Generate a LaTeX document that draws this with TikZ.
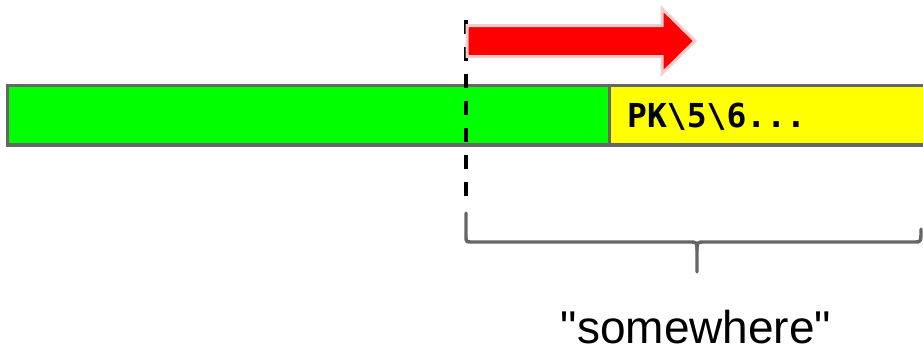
\documentclass[tikz,border=0pt]{standalone}
\usepackage{fontspec}
\setmainfont{Liberation Sans}[Ligatures=TeXOff]
\newfontfamily\codefont{DejaVu Sans Mono}
\definecolor{barfill}{HTML}{00FF00}
\definecolor{tailfill}{HTML}{FFFF00}
\definecolor{edgegray}{HTML}{666666}
\definecolor{arrowred}{HTML}{FF0000}
\definecolor{arrowrim}{HTML}{F4CCCC}
\tikzset{
  segment/.style={draw=edgegray, line width=3.2pt, inner sep=0pt, outer sep=0pt, anchor=north west},
  marker/.style={draw=black, line width=3.6pt, dash pattern=on 14pt off 13pt},
  bracket/.style={draw=edgegray, line width=3.4pt, line cap=round, line join=round},
  bigarrow/.style={fill=arrowred, draw=arrowrim, line width=3pt, line join=miter}
}
\begin{document}
\begin{tikzpicture}[x=1pt, y=-1pt]
  \useasboundingbox (0,0) rectangle (923,351);
  \begin{scope}
    \clip (0,0) rectangle (923,351);
    % the buffer: data part and the trailing record
    \node[segment, fill=barfill, minimum width=602pt, minimum height=59.5pt] (data) at (7.5,85.5) {};
    \node[segment, fill=tailfill, minimum width=330pt, minimum height=59.5pt] (tail) at (data.north east) {};
  \end{scope}
  \node[anchor=base west, inner sep=0pt, font=\codefont\bfseries\fontsize{33}{36}\selectfont] (sig) at (627,127) {PK\textbackslash5\textbackslash6...};
  % start of the backwards scan
  \coordinate (top) at (466,20);
  \coordinate (bottom) at (466,205);
  \draw[marker] (top) -- (bottom);
  % scan direction
  \draw[bigarrow] (467,25.5) -- (662,25.5) -- (662,8.5) -- (695,41) -- (662,73.5) -- (662,56.5) -- (467,56.5) -- cycle;
  % brace over the searched region
  \coordinate (bl) at (466,213);
  \coordinate (bm) at (697,272);
  \coordinate (br) at (921,229);
  \draw[bracket] (bl) -- (466,236) .. controls (466,242) .. (472,242) -- (689,242) .. controls (697,242) .. (697,250) -- (bm);
  \draw[bracket] (697,250) .. controls (697,242) .. (705,242) -- (915,242) .. controls (921,242) .. (br);
  \node[anchor=base, inner sep=0pt, text depth=0pt, font=\fontsize{46}{50}\selectfont] (label) at (696,343.5) {"somewhere"};
\end{tikzpicture}
\end{document}
